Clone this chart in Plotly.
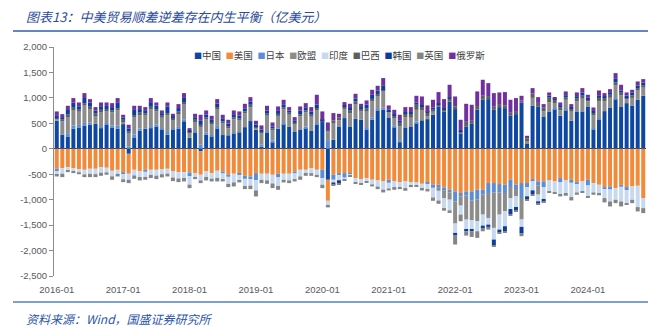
import plotly.graph_objects as go

months = [f"{y}-{m:02d}" for y in range(2016, 2025) for m in range(1, 13)][:107]

china = [550,275,242,393,419,458,472,491,406,472,419,393,
         485,-98,223,360,393,406,439,380,280,373,390,540,
         215,320,-50,275,240,400,270,265,300,325,425,545,
         375,40,310,130,395,485,430,330,380,406,360,472,
         537,-609,177,439,603,439,590,570,370,570,747,766,
         616,420,130,420,440,505,560,583,668,832,734,930,
         780,300,440,490,770,963,976,766,819,799,648,681,
         910,111,850,832,635,734,780,648,753,550,734,734,
         832,373,570,740,812,976,832,897,850,963,1041]
usa = [-393,-380,-360,-380,-400,-413,-393,-393,-360,-373,-432,-413,
       -459,-393,-413,-445,-413,-413,-413,-400,-393,-445,-459,-459,
       -465,-478,-461,-445,-478,-432,-445,-511,-491,-491,-531,-544,
       -478,-491,-491,-511,-491,-491,-491,-445,-413,-413,-380,-413,
       -413,-413,-511,-478,-478,-478,-576,-596,-576,-609,-622,-642,
       -609,-642,-655,-642,-655,-661,-688,-661,-707,-707,-760,-804,
       -837,-869,-837,-837,-804,-804,-673,-673,-693,-706,-608,-706,
       -673,-673,-595,-640,-640,-622,-642,-576,-622,-609,-655,-642,
       -609,-675,-707,-753,-740,-773,-707,-753,-740,-727,-969]
japan = [-50,0,65,65,50,50,40,0,40,30,40,60,
         -40,40,60,40,-40,40,40,20,50,30,40,40,
         -70,20,80,40,30,50,-40,-40,30,-30,-60,-50,
         -140,40,40,30,-70,20,0,-40,0,30,0,30,
         -164,170,-98,-40,-90,-30,0,0,30,40,30,40,
         -60,30,40,0,0,30,0,-30,-60,-60,-65,-52,
         -196,-65,-85,-176,-196,-98,-196,-183,-163,-163,-144,-85,
         -294,-78,-46,-85,-111,0,20,-85,20,-60,-40,0,
         -110,30,30,-40,-60,20,-40,-60,0,0,0]
eu = [40,262,330,315,260,340,280,170,290,250,260,300,
      60,260,340,260,260,330,260,210,330,170,270,300,
      110,200,350,260,220,320,230,140,250,230,270,270,
      50,230,300,200,250,270,240,160,260,280,270,260,
      0,190,330,120,180,260,280,170,330,320,270,330,
      110,170,270,200,170,230,200,50,60,-60,-144,-144,
      -437,-183,-470,-392,-424,-392,-490,-699,-438,-359,-216,-144,
      -424,30,150,-176,100,180,100,110,190,180,200,250,
      100,250,330,190,190,250,220,80,150,180,160]
india = [-70,-110,-60,-60,-60,-90,-100,-105,-110,-90,-110,-80,
         -100,-120,-110,-110,-100,-100,-115,-100,-95,-120,-125,-115,
         -170,-80,-110,-110,-110,-140,-110,-140,-170,-110,-140,-130,
         -200,-120,-130,-170,-170,-120,-130,-110,-130,-80,-100,-100,
         -130,-91,-52,-100,-41,-22,-85,-80,-60,-90,-120,-160,
         -110,-110,-100,-130,-70,-60,-100,-100,-190,-190,-196,-209,
         -183,-176,-196,-183,-196,-216,-131,-229,-294,-294,-216,-209,
         -144,-183,-176,-131,-235,-216,-216,-242,-262,-280,-163,-196,
         -218,-183,-177,-176,-235,-229,-288,-254,-262,-419,-197]
brazil = [10,45,35,33,40,40,35,30,30,30,40,40,
          25,40,40,50,45,50,40,40,40,30,30,40,
          20,30,40,40,30,50,40,40,40,40,40,50,
          20,30,40,40,40,40,40,30,40,40,40,39,
          13,20,50,60,50,60,60,40,60,50,30,20,
          10,30,70,80,80,100,70,70,40,40,40,50,
          50,40,90,60,70,80,60,60,60,50,60,60,
          40,60,90,70,80,90,60,60,50,60,60,60,
          40,50,70,70,60,60,50,40,50,50,40]
korea = [60,40,90,100,66,110,80,60,70,60,60,110,
         45,60,100,70,60,90,70,50,130,40,70,80,
         20,50,80,60,60,70,60,50,60,60,60,60,
         30,40,60,40,60,60,40,40,70,60,60,70,
         20,0,-46,-57,20,60,60,40,80,80,70,80,
         30,30,40,20,30,40,30,20,40,20,20,30,
         -52,30,-33,-33,0,-46,-46,-118,-52,-98,-98,-72,
         -131,-65,-72,-52,-59,40,20,40,40,30,40,60,
         30,40,40,30,50,80,40,30,50,50,60]
uk = [-31,-67,-39,-38,-40,-54,-64,-59,-61,-48,-67,-51,
      -56,-64,-67,-67,-56,-63,-68,-63,-56,-70,-71,-68,
      -68,-38,-54,-67,-54,-70,-47,-62,-79,-30,-62,-69,
      -119,-64,-67,-92,-75,-50,-54,-47,-66,-38,-51,-44,
      -66,-39,-20,-20,-20,-10,-20,-31,-25,-41,-51,-56,
      -40,-54,-38,-53,-28,-19,-31,-47,-65,-64,-52,-52,
      -176,-131,-85,-111,-131,-65,-52,-26,-20,-20,-20,-20,
      -52,-20,-20,-20,-20,-20,-20,-33,-39,-66,-46,-20,
      -13,-46,-30,-85,-98,-66,-98,-33,-66,-85,-98]
russia = [74,59,83,90,75,96,69,68,74,68,78,93,
          53,72,82,65,61,80,61,53,80,45,78,94,
          41,68,118,78,68,86,68,75,73,79,89,90,
          75,79,95,77,87,88,69,62,82,81,89,190,
          164,137,144,69,64,65,91,64,80,99,91,153,
          86,86,118,99,99,136,168,129,155,222,182,248,
          198,200,354,315,287,313,254,268,228,265,255,255,
          91,54,102,113,63,63,35,52,74,58,73,88,
          59,69,106,64,60,101,116,60,59,80,68]

series_names = ["中国", "美国", "日本", "欧盟", "印度", "巴西", "韩国", "英国", "俄罗斯"]
series_values = [china, usa, japan, eu, india, brazil, korea, uk, russia]
series_colors = ["#0E47A1", "#F28A3A", "#5B8ED6", "#8C8C8C", "#C6D9F1",
                 "#5E5E5E", "#0B3C9E", "#848484", "#7030A0"]

x_ticks = ["2016-01", "2017-01", "2018-01", "2019-01", "2020-01",
           "2021-01", "2022-01", "2023-01", "2024-01"]
y_ticks = [2000, 1500, 1000, 500, 0, -500, -1000, -1500, -2000, -2500]
y_tick_text = ["2,000", "1,500", "1,000", "500", "0", "-500", "-1,000",
               "-1,500", "-2,000", "-2,500"]

title_text = "图表13：中美贸易顺差逆差存在内生平衡（亿美元）"
source_text = "资料来源：Wind，国盛证券研究所"

fig = go.Figure()
for name, vals, color in zip(series_names, series_values, series_colors):
    fig.add_trace(go.Bar(x=months, y=vals, name=name,
                         marker=dict(color=color, line=dict(width=0))))

L, R, T, B = 54, 2, 47, 59
W, H = 648, 335
pw, ph = W - L - R, H - T - B

def px(x):
    return (x - L) / pw

def py(y):
    return (H - B - y) / ph

fig.update_layout(
    barmode="relative", bargap=0.28,
    width=W, height=H,
    margin=dict(l=L, r=R, t=T, b=B, pad=0),
    paper_bgcolor="white", plot_bgcolor="white",
    showlegend=False,
    font=dict(family="Liberation Sans, Arial, Noto Sans CJK SC", size=9, color="#595959"),
)
fig.update_xaxes(type="category", tickvals=x_ticks, ticktext=x_ticks,
                 showline=False, ticks="", showgrid=False, zeroline=False,
                 ticklabelstandoff=6,
                 tickfont=dict(size=9.5, color="#595959"))
fig.update_yaxes(range=[-2500, 2000], tickvals=y_ticks, ticktext=y_tick_text,
                 showline=True, linecolor="#8C8C8C", linewidth=1,
                 ticks="outside", ticklen=4, tickcolor="#8C8C8C",
                 showgrid=False, zeroline=True, zerolinecolor="#404040",
                 zerolinewidth=1, layer="above traces",
                 tickfont=dict(size=9.5, color="#595959"))

legend_html = "\u2002".join(
    f"<span style='color:{c};font-size:8px'>■</span>{n}" for n, c in zip(series_names, series_colors))

fig.add_annotation(text=legend_html, xref="paper", yref="paper",
                   x=px(192), y=py(55), xanchor="left", yanchor="middle",
                   showarrow=False,
                   font=dict(family="Noto Sans CJK SC", size=9.5, color="#404040"))
fig.add_annotation(text=title_text, xref="paper", yref="paper",
                   x=px(24), y=py(16), xanchor="left", yanchor="middle",
                   showarrow=False,
                   font=dict(family="Noto Sans CJK SC", size=13, color="#2A4A9A", style="italic"))
fig.add_annotation(text=source_text, xref="paper", yref="paper",
                   x=px(24), y=py(318), xanchor="left", yanchor="middle",
                   showarrow=False,
                   font=dict(family="Noto Sans CJK SC", size=12, color="#2A55A8", style="italic"))

fig.add_shape(type="line", xref="paper", yref="paper",
              x0=px(13), x1=px(648), y0=py(31), y1=py(31),
              line=dict(color="#2F5FAE", width=1.5))
fig.add_shape(type="line", xref="paper", yref="paper",
              x0=px(13), x1=px(648), y0=py(302), y1=py(302),
              line=dict(color="#4F7FC8", width=1.5))

fig.write_html("out.html")
